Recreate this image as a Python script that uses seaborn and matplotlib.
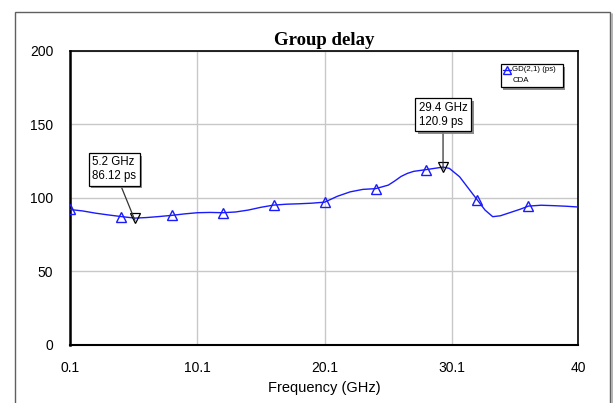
import matplotlib
matplotlib.use("Agg")
import matplotlib.pyplot as plt
import matplotlib.patheffects as pe
from matplotlib.patches import Rectangle
from matplotlib.lines import Line2D
import seaborn as sns
import pandas as pd

# ---- data ----
freq_ghz = [0.1, 1.1, 2.1, 3.1, 4.1, 5.2, 6.1, 7.1, 8.1, 9.1, 10.1, 11.1, 12.1,
            13.1, 14.1, 15.1, 16.1, 17.1, 18.1, 19.1, 20.1, 21.1, 22.1, 23.1,
            24.1, 25.1, 25.6, 26.1, 26.6, 27.1, 28.1, 29.4, 29.9, 30.7, 31.5,
            32.1, 32.7, 33.3, 33.9, 34.7, 35.5, 36.1, 37.1, 38.1, 39.1, 40.0]
gd_ps = [92.0, 91.0, 89.5, 88.3, 87.2, 86.12, 86.5, 87.2, 88.0, 89.0, 89.8, 90.0,
         89.8, 90.3, 91.6, 93.5, 95.0, 95.6, 95.9, 96.3, 97.0, 101.0, 104.0,
         105.7, 106.2, 108.6, 111.4, 114.5, 116.6, 118.0, 119.2, 120.9, 120.0,
         114.3, 105.2, 98.4, 91.6, 87.1, 87.7, 90.0, 92.3, 94.3, 94.9, 94.6,
         94.2, 93.7]
marker_freqs = [0.1, 4.1, 8.1, 12.1, 16.1, 20.1, 24.1, 28.1, 32.1, 36.1]
readouts = [(5.2, 86.12, "5.2 GHz\n86.12 ps"), (29.4, 120.9, "29.4 GHz\n120.9 ps")]
readout_text_pos = [(3.57, 119.4), (29.4, 156.5)]
x_ticks = [0.1, 10.1, 20.1, 30.1, 40]
x_ticklabels = ["0.1", "10.1", "20.1", "30.1", "40"]
y_ticks = [0, 50, 100, 150, 200]
title = "Group delay"
xlabel = "Frequency (GHz)"
legend_label = "GD(2,1) (ps)"
legend_sub = "CDA"

df = pd.DataFrame({"freq": freq_ghz, "gd": gd_ps})

sns.set_style("white")
plt.rcParams["font.family"] = ["Liberation Sans", "DejaVu Sans"]
plt.rcParams["text.color"] = "black"
plt.rcParams["axes.labelcolor"] = "black"
plt.rcParams["xtick.color"] = "black"
plt.rcParams["ytick.color"] = "black"

fig = plt.figure(figsize=(6.14, 4.03), dpi=100)
ax = fig.add_axes([70/614, 1-344.5/403, 508/614, 293.5/403])

blue = "#1a1aff"
mk_idx = [freq_ghz.index(f) for f in marker_freqs]
sns.lineplot(data=df, x="freq", y="gd", ax=ax, color=blue, linewidth=1.0,
             marker="^", markevery=mk_idx, markersize=7, markerfacecolor="none",
             markeredgecolor=blue, markeredgewidth=1.0, zorder=3)

# readout markers
for (fx, fy, _) in readouts:
    ax.plot([fx], [fy], marker="v", markersize=7, markerfacecolor="none",
            markeredgecolor="black", markeredgewidth=0.9, zorder=4, linestyle="none")

shadow = [pe.SimplePatchShadow(offset=(2, -2), shadow_rgbFace="#808080", alpha=0.9), pe.Normal()]
for (fx, fy, txt), (tx, ty) in zip(readouts, readout_text_pos):
    an = ax.annotate(txt, xy=(fx, fy - 1.5), xytext=(tx, ty), textcoords="data",
                     ha="center", va="center", multialignment="left", fontsize=8.3,
                     bbox=dict(boxstyle="square,pad=0.3", fc="white", ec="black", lw=0.9),
                     arrowprops=dict(arrowstyle="-", color="#333333", lw=0.9,
                                     shrinkA=0, shrinkB=0), zorder=5)
    an.get_bbox_patch().set_path_effects(shadow)

ax.set_xlim(0.1, 40)
ax.set_ylim(0, 200)
ax.set_xticks(x_ticks)
ax.set_xticklabels(x_ticklabels)
ax.set_yticks(y_ticks)
ax.tick_params(axis="both", length=0, labelsize=10, pad=12, colors="black")
ax.grid(True, color="#c8c8c8", linewidth=1.0)
ax.set_axisbelow(True)
for side, sp in ax.spines.items():
    sp.set_color("black")
    sp.set_linewidth(1.2)
ax.spines["left"].set_linewidth(1.8)
ax.spines["bottom"].set_linewidth(1.5)

ax.set_xlabel(xlabel, fontsize=10.5, labelpad=4, color="black")
ax.set_ylabel("")
ax.set_title(title, fontsize=13.5, fontweight="bold", color="black",
             family=["Liberation Serif", "DejaVu Serif"], pad=4)

# legend box (manual, in pixel-derived axes coords)
def px2ax(px, py):
    return ((px - 70) / 508, (344.5 - py) / 293.5)

lx0, ly0 = px2ax(500.7, 87.3)
lx1, ly1 = px2ax(562.7, 64)
leg_rect = Rectangle((lx0, ly0), lx1 - lx0, ly1 - ly0, transform=ax.transAxes,
                     facecolor="white", edgecolor="black", lw=0.9, zorder=6)
leg_rect.set_path_effects(shadow)
ax.add_patch(leg_rect)
mx0, my = px2ax(502.5, 69.5)
mx1, _ = px2ax(510.5, 69.5)
ax.add_line(Line2D([mx0, mx1], [my, my], transform=ax.transAxes, color=blue, lw=1.0, zorder=7))
mxc, _ = px2ax(506.5, 68.5)
ax.add_line(Line2D([mxc], [my], transform=ax.transAxes, color=blue, marker="^", markersize=5.5,
                   markerfacecolor="none", markeredgecolor=blue, markeredgewidth=1.0, zorder=7))
tx, ty = px2ax(512.5, 69.5)
ax.text(tx, ty, legend_label, transform=ax.transAxes, fontsize=5.7, va="center", ha="left", zorder=7)
tx2, ty2 = px2ax(512.5, 80.5)
ax.text(tx2, ty2, legend_sub, transform=ax.transAxes, fontsize=5.7, va="center", ha="left", zorder=7)

# outer frame
H = 403.0
W = 614.0
fig.add_artist(Line2D([612/W, 612/W], [1 - 14/H, -0.1], transform=fig.transFigure,
                      color="#a8a8a8", lw=1.2))
frame = Rectangle((15/W, -0.1), 595/W, 1.1 - 11.5/H, transform=fig.transFigure,
                  facecolor="none", edgecolor="#606060", lw=1.0, zorder=1)
fig.patches.append(frame)

fig.savefig("out.png", dpi=100)
